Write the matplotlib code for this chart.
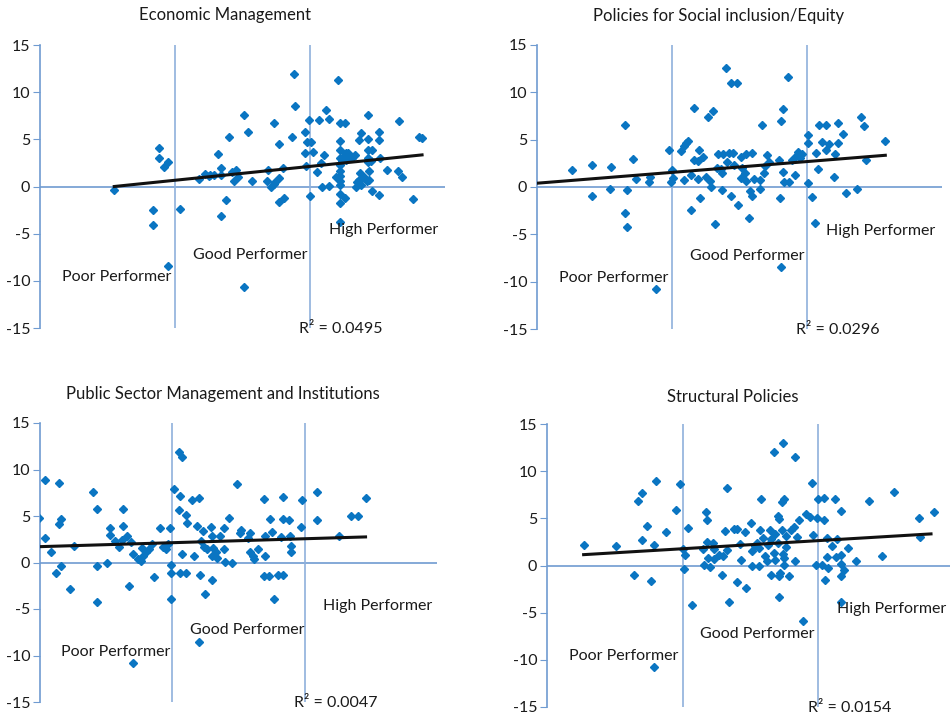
import numpy as np
import matplotlib
matplotlib.use("Agg")
import matplotlib.pyplot as plt

plt.rcParams['font.family'] = ['Lato', 'DejaVu Sans']
plt.rcParams['axes.unicode_minus'] = False

# performance score (x) vs. outcome (y), one pair of lists per panel
em_x = [2.55, 2.88, 2.88, 2.92, 2.95, 2.84, 2.84, 2.95, 3.04, 3.18,
        3.22, 3.25, 3.26, 3.29, 3.32, 3.34, 3.34, 3.34, 3.38, 3.40,
        3.42, 3.44, 3.45, 3.47, 3.51, 3.51, 3.54, 3.57, 3.68, 3.69,
        3.71, 3.73, 3.73, 3.74, 3.77, 3.77, 3.77, 3.80, 3.81, 3.87,
        3.88, 3.89, 3.96, 3.96, 3.97, 3.98, 3.99, 4.00, 4.01, 4.02,
        4.05, 4.07, 4.08, 4.09, 4.10, 4.12, 4.14, 4.14, 4.19, 4.21,
        4.22, 4.22, 4.22, 4.22, 4.22, 4.22, 4.22, 4.22, 4.22, 4.22,
        4.22, 4.22, 4.26, 4.26, 4.25, 4.24, 4.27, 4.27, 4.28, 4.30,
        4.31, 4.33, 4.34, 4.35, 4.36, 4.36, 4.37, 4.38, 4.38, 4.40,
        4.40, 4.42, 4.43, 4.43, 4.43, 4.43, 4.43, 4.44, 4.44, 4.45,
        4.46, 4.46, 4.51, 4.51, 4.51, 4.52, 4.57, 4.65, 4.66, 4.68,
        4.76, 4.81, 4.83]
em_y = [-0.4, 4.1, 3.0, 2.1, 2.6, -2.5, -4.1, -8.4, -2.4, 0.8,
        1.3, 1.1, 1.2, 1.2, 3.4, 2.0, 1.2, -3.1, -1.4, 5.2,
        1.5, 0.6, 1.7, 1.0, 7.6, -10.7, 5.8, 0.6, 0.6, 1.7,
        -0.1, 0.3, 6.7, 0.5, 0.9, 4.5, -1.6, 2.0, -1.2, 5.2,
        11.9, 8.5, 5.8, 3.5, 2.2, 4.7, 7.1, -1.0, 4.7, 3.7,
        1.5, 7.1, 2.5, -0.1, 3.3, 8.1, 0.1, 7.2, 1.0, 11.3,
        6.7, 4.8, 3.9, 3.0, 2.3, 1.6, 1.1, 0.6, 0.2, -0.8,
        -1.8, -3.8, 6.7, -1.2, 3.2, 2.7, 3.6, 2.8, 3.5, 3.0,
        3.0, 3.3, -0.1, 0.5, 4.9, 0.7, 1.4, 5.7, 0.2, 0.9,
        1.0, 0.6, 7.6, 5.0, 3.9, 3.0, 2.6, 1.6, 0.7, 2.7,
        3.9, -0.5, 5.8, 4.9, -0.9, 3.0, 1.8, 1.6, 6.9, 1.0,
        -1.3, 5.2, 5.1]

si_x = [2.26, 2.41, 2.41, 2.55, 2.54, 2.65, 2.65, 2.67, 2.67, 2.71,
        2.73, 2.83, 2.84, 2.88, 2.98, 2.99, 3.00, 3.01, 3.07, 3.09,
        3.10, 3.12, 3.09, 3.14, 3.14, 3.16, 3.16, 3.19, 3.20, 3.19,
        3.21, 3.23, 3.25, 3.27, 3.30, 3.28, 3.29, 3.32, 3.33, 3.34,
        3.36, 3.37, 3.37, 3.38, 3.40, 3.41, 3.42, 3.44, 3.48, 3.44,
        3.45, 3.46, 3.49, 3.51, 3.52, 3.51, 3.54, 3.55, 3.55, 3.57,
        3.58, 3.59, 3.59, 3.61, 3.65, 3.65, 3.67, 3.68, 3.69, 3.70,
        3.72, 3.79, 3.80, 3.81, 3.82, 3.82, 3.83, 3.81, 3.86, 3.87,
        3.89, 3.91, 3.92, 3.93, 3.95, 3.96, 4.01, 4.01, 4.01, 4.04,
        4.06, 4.07, 4.08, 4.09, 4.11, 4.14, 4.14, 4.16, 4.20, 4.21,
        4.23, 4.23, 4.27, 4.29, 4.37, 4.40, 4.42, 4.44, 4.58]
si_y = [1.8, 2.3, -1.0, 2.1, -0.2, 6.6, -2.7, -0.3, -4.2, 3.0,
        0.8, 0.5, 1.1, -10.8, 3.9, 0.5, 1.8, 1.0, 3.8, 4.3,
        4.7, 4.9, 0.7, 1.3, -2.4, 8.3, 2.9, 0.8, 3.9, 2.7,
        -1.2, 3.2, 1.1, 7.4, 8.0, 0.6, 0.0, -3.9, 2.0, 3.5,
        1.9, 1.5, -0.3, 3.5, 12.6, 2.6, 3.6, 11.0, 11.0, -1.0,
        3.6, 2.3, -1.9, 3.2, 2.0, 0.9, 1.5, 3.5, 0.6, -3.3,
        -0.4, -1.0, 3.6, 0.8, 0.7, -0.2, 6.5, 1.5, 2.2, 3.4,
        2.6, 2.8, -1.2, 7.0, 8.2, 1.6, 0.5, -8.4, 11.6, 0.5,
        2.9, 1.3, 3.3, 3.7, 3.1, 3.5, 5.5, 4.6, 0.4, -1.1,
        -3.8, 3.6, 1.9, 6.6, 4.8, 6.6, 3.9, 4.5, 1.1, 3.5,
        6.8, 4.6, 5.6, -0.6, -0.2, 7.4, 6.4, 2.9, 4.9]

ps_x = [1.99, 2.04, 2.04, 2.08, 2.12, 2.14, 2.14, 2.16, 2.16, 2.23,
        2.26, 2.40, 2.43, 2.43, 2.43, 2.51, 2.53, 2.53, 2.57, 2.60,
        2.62, 2.63, 2.63, 2.66, 2.67, 2.69, 2.70, 2.70, 2.74, 2.76,
        2.77, 2.78, 2.80, 2.82, 2.85, 2.86, 2.91, 2.93, 2.95, 2.97,
        2.98, 2.99, 2.99, 2.99, 3.01, 3.05, 3.07, 3.05, 3.06, 3.07,
        3.06, 3.10, 3.10, 3.11, 3.15, 3.16, 3.20, 3.19, 3.20, 3.21,
        3.22, 3.23, 3.24, 3.25, 3.26, 3.29, 3.30, 3.30, 3.30, 3.31,
        3.33, 3.34, 3.36, 3.39, 3.39, 3.40, 3.43, 3.45, 3.49, 3.51,
        3.52, 3.57, 3.59, 3.59, 3.61, 3.62, 3.65, 3.69, 3.70, 3.70,
        3.69, 3.73, 3.74, 3.75, 3.77, 3.80, 3.82, 3.84, 3.84, 3.84,
        3.88, 3.89, 3.90, 3.90, 3.97, 3.98, 4.09, 4.09, 4.26, 4.35,
        4.40, 4.46]
ps_y = [4.8, 8.9, 2.6, 1.1, -1.1, 8.5, 4.1, 4.7, -0.4, -2.8,
        1.8, 7.6, 5.7, -0.4, -4.2, 0.0, 3.7, 3.0, 2.3, 1.7,
        2.4, 5.7, 3.9, 2.9, -2.5, 2.2, -10.8, 0.9, 0.4, 0.2,
        1.6, 0.7, 1.1, 1.4, 2.0, -1.6, 3.7, 1.7, 1.5, 2.0,
        3.7, -0.3, -1.1, -3.9, 7.9, 11.9, 11.3, 5.6, 7.2, 0.9,
        -1.1, -1.1, 5.1, 4.3, 6.7, 0.7, 6.9, 3.9, -8.5, -1.3,
        2.3, 3.4, 1.7, -3.4, 1.4, 3.8, 2.8, 0.7, -1.9, 1.6,
        1.1, 0.5, 2.9, 3.7, 1.4, 0.1, 4.8, -0.1, 8.4, 3.2,
        3.5, 2.6, 3.2, 1.1, 0.7, 0.4, 1.4, 6.8, 2.9, 0.7,
        -1.5, -1.4, 4.7, 3.3, -3.9, -1.3, 2.7, 7.0, 4.7, -1.3,
        4.6, 2.9, 1.8, 1.1, 3.8, 6.7, 7.6, 4.6, 2.9, 5.0,
        5.0, 6.9]

sp_x = [2.27, 2.51, 2.64, 2.67, 2.70, 2.70, 2.74, 2.77, 2.79, 2.79,
        2.80, 2.88, 2.95, 2.98, 3.00, 3.01, 3.02, 3.04, 3.07, 3.15,
        3.16, 3.17, 3.18, 3.18, 3.19, 3.20, 3.22, 3.23, 3.23, 3.27,
        3.29, 3.30, 3.31, 3.33, 3.33, 3.34, 3.38, 3.40, 3.40, 3.42,
        3.43, 3.46, 3.47, 3.50, 3.51, 3.51, 3.53, 3.55, 3.56, 3.56,
        3.57, 3.58, 3.59, 3.61, 3.62, 3.63, 3.64, 3.65, 3.65, 3.67,
        3.67, 3.68, 3.68, 3.70, 3.70, 3.71, 3.71, 3.71, 3.72, 3.73,
        3.73, 3.74, 3.74, 3.75, 3.75, 3.75, 3.76, 3.76, 3.78, 3.80,
        3.83, 3.82, 3.83, 3.84, 3.86, 3.89, 3.91, 3.94, 3.95, 3.96,
        3.98, 3.99, 4.00, 4.03, 4.04, 4.04, 4.05, 4.06, 4.06, 4.07,
        4.10, 4.12, 4.13, 4.14, 4.17, 4.17, 4.17, 4.17, 4.17, 4.19,
        4.22, 4.28, 4.37, 4.47, 4.56, 4.74, 4.75, 4.85]
sp_y = [2.2, 2.1, -1.0, 6.8, 7.7, 2.7, 4.2, -1.6, -10.8, 2.2,
        9.0, 3.5, 5.9, 8.6, 1.7, -0.4, 1.1, 4.0, -4.2, 1.7,
        0.1, 5.7, 4.8, 2.5, 0.8, -0.2, 2.4, 1.7, 0.7, 1.1,
        -1.0, 1.0, 3.7, 1.6, 8.2, -3.9, 3.9, -1.8, 3.9, 2.3,
        0.6, 3.5, -2.4, 4.5, 0.0, 1.5, 2.1, 2.4, 1.9, -0.1,
        3.8, 7.0, 2.9, 1.0, 0.5, 2.2, 3.8, -1.0, 2.8, 12.0,
        1.3, 0.6, 3.3, 2.4, 5.2, -1.1, -3.3, 4.9, -0.8, 6.7,
        3.8, 1.2, 13.0, 7.1, 0.8, 0.1, 3.1, 2.0, -1.1, 3.8,
        11.5, 4.1, 0.5, 3.0, 4.8, -5.9, 5.5, 5.1, 8.7, 3.2,
        0.1, 5.0, 7.1, 0.1, 7.2, 4.8, -1.5, 0.9, 2.9, -0.3,
        2.1, 7.0, 0.9, 2.8, 5.8, 1.1, 0.2, -1.1, -3.9, -0.5,
        1.9, 0.5, 6.8, 1.0, 7.8, 5.0, 3.0, 5.7]

# linear trend lines: (x start, x end), (y start, y end)
em_trend = ([2.55, 4.83], [0.0, 3.35])
si_trend = ([2.00, 4.58], [0.4, 3.35])
ps_trend = ([1.99, 4.46], [1.7, 2.75])
sp_trend = ([2.27, 4.83], [1.15, 3.35])

titles = ["Economic Management", "Policies for Social inclusion/Equity",
          "Public Sector Management and Institutions", "Structural Policies"]
r2_labels = ["R² = 0.0495", "R² = 0.0296", "R² = 0.0047", "R² = 0.0154"]
thresholds = [3.0, 4.0]
yticks = [-15, -10, -5, 0, 5, 10, 15]

panels = [(em_x, em_y, em_trend), (si_x, si_y, si_trend),
          (ps_x, ps_y, ps_trend), (sp_x, sp_y, sp_trend)]

# pixel boxes (left, top, right, bottom) and title centres
boxes = [(40, 45, 445, 328), (537, 45, 942, 329),
         (40, 423, 437, 702), (547, 424, 950, 707)]
xmax = [5.0, 5.0, 5.0, 4.97]
title_pos = [(225, 15), (719, 16), (223, 394), (733, 397)]

W, H = 950, 716
fig = plt.figure(figsize=(9.5, 7.16), dpi=100)

axis_col = '#6f9bd1'
grid_col = '#8fb0dc'
pt_col = '#0a75c2'

for i, (xs, ys, tr) in enumerate(panels):
    l, t, r, b = boxes[i]
    ax = fig.add_axes([l / W, 1 - b / H, (r - l) / W, (b - t) / H])
    ax.set_xlim(2.0, xmax[i])
    ax.set_ylim(-15, 15)
    for s in ['top', 'right', 'bottom']:
        ax.spines[s].set_visible(False)
    ax.spines['left'].set_color(axis_col)
    ax.spines['left'].set_linewidth(1.2)
    ax.set_xticks([])
    ax.set_yticks(yticks)
    ax.tick_params(axis='y', direction='out', length=5, color=axis_col,
                   labelsize=11.5, labelcolor='#1a1a1a', pad=2)
    ax.axhline(0, color=axis_col, lw=1.2, zorder=1)
    for th in thresholds:
        ax.axvline(th, color=grid_col, lw=1.2, zorder=1)

    ax.plot(xs, ys, 'D', color=pt_col, ms=4.4, mec=pt_col, zorder=3)
    ax.plot(tr[0], tr[1], color='#111111', lw=2.2, zorder=4)

    ax.text(2.16, -9.6, "Poor Performer", fontsize=11.5, va='center', color='#1a1a1a')
    ax.text(3.13, -7.3, "Good Performer", fontsize=11.5, va='center', color='#1a1a1a')
    ax.text(4.14, -4.65, "High Performer", fontsize=11.5, va='center', color='#1a1a1a')
    ax.text(3.92, -15.15, r2_labels[i], fontsize=11.5, va='center', color='#1a1a1a',
            clip_on=False)

    tx, ty = title_pos[i]
    fig.text(tx / W, 1 - ty / H, titles[i], fontsize=12, ha='center', va='center',
             color='#1a1a1a')

fig.savefig("out.png", dpi=100)
